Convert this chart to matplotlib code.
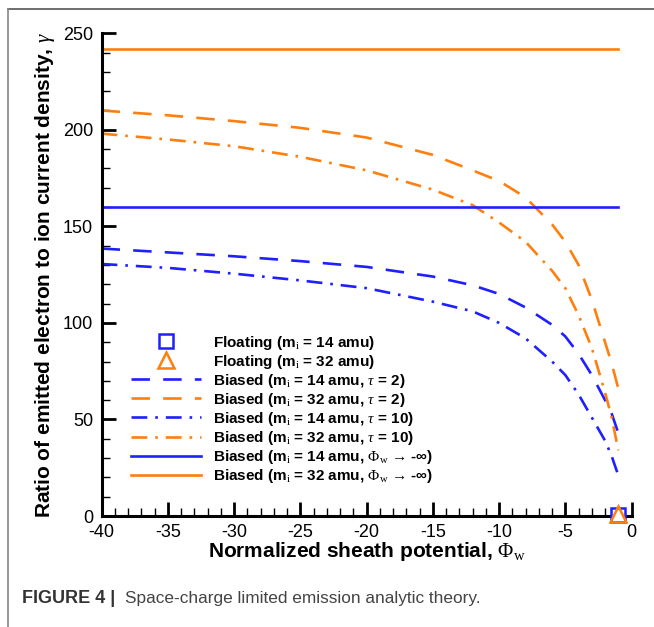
import numpy as np
import matplotlib.pyplot as plt
from matplotlib.lines import Line2D

plt.rcParams['font.family'] = ['Liberation Sans', 'DejaVu Sans']
plt.rcParams['mathtext.fontset'] = 'custom'
plt.rcParams['mathtext.rm'] = 'Liberation Serif'
plt.rcParams['mathtext.it'] = 'Liberation Serif:italic'
plt.rcParams['mathtext.bf'] = 'Liberation Serif:bold'
plt.rcParams['axes.unicode_minus'] = False

# potencial normalizado de la vaina
phi = [-40, -35, -30, -25, -20, -15, -12, -10, -8, -6, -5, -4, -3, -2, -1.5, -1]

# razon gamma, caso polarizado
b14_t2 = [138.5, 136.5, 134.5, 132, 129, 124, 119.5, 115, 108, 99, 93, 84, 73, 60, 53, 43]
b32_t2 = [210, 207.5, 204.5, 201, 196, 187, 179, 173.5, 165, 151, 142, 130, 112, 90, 79, 66]
b14_t10 = [130.5, 128.5, 125.5, 122, 118, 111, 106, 100, 92, 80, 73, 63, 51, 39, 31, 21]
b32_t10 = [198, 195, 191.5, 186, 179, 169, 161, 152, 142, 127, 118, 104, 87, 64, 51, 34]

# limite phi_w -> -inf
lim_phi = [-40, -1]
lim14 = 160
lim32 = 242

# caso flotante
flot_phi = [-1]
flot14 = [0.5]
flot32 = [1.0]

azul = '#1f1fff'
naranja = '#ff7f0e'

fig = plt.figure(figsize=(6.54, 6.27), dpi=100)
ax = fig.add_axes([0.1553, 0.177, 0.8104, 0.770])

lw = 1.9
ax.plot(phi, b14_t2, color=azul, lw=lw, dashes=(7, 5))
ax.plot(phi, b32_t2, color=naranja, lw=lw, dashes=(7, 5))
ax.plot(phi, b14_t10, color=azul, lw=lw, dashes=(6, 3, 1, 3))
ax.plot(phi, b32_t10, color=naranja, lw=lw, dashes=(6, 3, 1, 3))
ax.plot(lim_phi, [lim14, lim14], color=azul, lw=lw)
ax.plot(lim_phi, [lim32, lim32], color=naranja, lw=lw)
ax.plot(flot_phi, flot14, ls='none', marker='s', ms=10, mfc='white', mec=azul, mew=1.8, clip_on=False, zorder=5)
ax.plot(flot_phi, flot32, ls='none', marker='^', ms=11, mfc='none', mec=naranja, mew=1.8, clip_on=False, zorder=6)

ax.set_xlim(-40, 0)
ax.set_ylim(0, 250)
ax.set_xticks(np.arange(-40, 1, 5))
ax.set_xticks(np.arange(-40, 1, 1), minor=True)
ax.set_yticks(np.arange(0, 251, 50))
ax.set_yticks(np.arange(0, 251, 10), minor=True)
ax.spines['top'].set_visible(False)
ax.spines['right'].set_visible(False)
ax.spines['left'].set_linewidth(2.2)
ax.spines['bottom'].set_linewidth(2.2)
ax.tick_params(which='major', direction='in', length=10, width=2, labelsize=13, pad=6)
ax.tick_params(which='minor', direction='in', length=6, width=1)

ax.set_xlabel(r'Normalized sheath potential, $\Phi_{\rm w}$', fontsize=15, fontweight='bold', labelpad=-1)
ax.set_ylabel(r'Ratio of emitted electron to ion current density, $\gamma$', fontsize=15, fontweight='bold', labelpad=4)

handles = [
    Line2D([], [], ls='none', marker='s', ms=10, mfc='white', mec=azul, mew=1.8),
    Line2D([], [], ls='none', marker='^', ms=11, mfc='none', mec=naranja, mew=1.8),
    Line2D([], [], color=azul, lw=lw, dashes=(7, 5)),
    Line2D([], [], color=naranja, lw=lw, dashes=(7, 5)),
    Line2D([], [], color=azul, lw=lw, dashes=(6, 3, 1, 3)),
    Line2D([], [], color=naranja, lw=lw, dashes=(6, 3, 1, 3)),
    Line2D([], [], color=azul, lw=lw),
    Line2D([], [], color=naranja, lw=lw),
]
labels = [
    r'Floating (m$_{\rm i}$ = 14 amu)',
    r'Floating (m$_{\rm i}$ = 32 amu)',
    r'Biased (m$_{\rm i}$ = 14 amu, $\tau$ = 2)',
    r'Biased (m$_{\rm i}$ = 32 amu, $\tau$ = 2)',
    r'Biased (m$_{\rm i}$ = 14 amu, $\tau$ = 10)',
    r'Biased (m$_{\rm i}$ = 32 amu, $\tau$ = 10)',
    r'Biased (m$_{\rm i}$ = 14 amu, $\Phi_{\rm w}$ → -∞)',
    r'Biased (m$_{\rm i}$ = 32 amu, $\Phi_{\rm w}$ → -∞)',
]
leg = ax.legend(handles, labels, loc='upper left', bbox_to_anchor=(0.055, 0.378), frameon=False,
                prop={'weight': 'bold', 'size': 11}, handlelength=4.6, handletextpad=0.8,
                labelspacing=0.07, borderpad=0, borderaxespad=0)

# marco y pie de figura
fig.add_artist(Line2D([0.012, 1.0], [0.986, 0.986], color='#555555', lw=1.2, transform=fig.transFigure))
fig.add_artist(Line2D([0.012, 0.012], [0.0, 0.986], color='#888888', lw=1.2, transform=fig.transFigure))
fig.text(0.034, 0.039, 'FIGURE 4 |', fontsize=13, fontweight='bold', color='#333333')
fig.text(0.191, 0.039, 'Space-charge limited emission analytic theory.', fontsize=12.4, color='#444444')

fig.savefig('out.png', dpi=100)
